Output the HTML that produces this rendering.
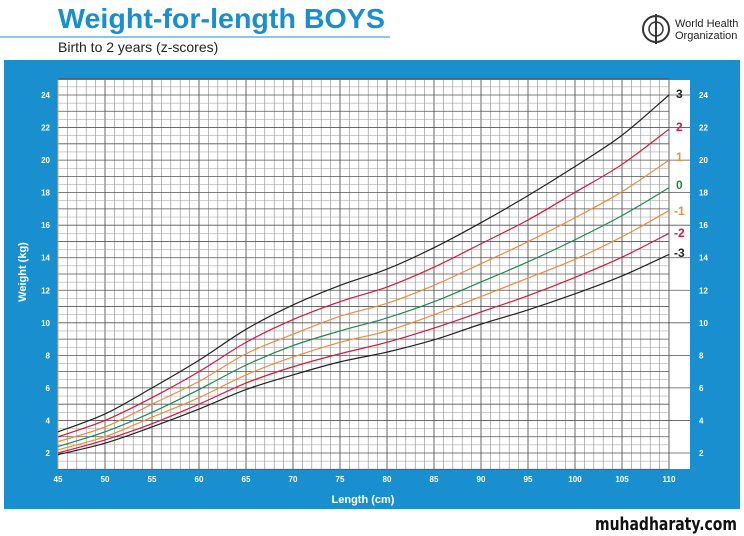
<!DOCTYPE html>
<html><head><meta charset="utf-8"><style>
body{margin:0;width:744px;height:536px;background:#fff;overflow:hidden;font-family:"Liberation Sans",sans-serif;position:relative}
</style></head><body>
<svg width="744" height="536" xmlns="http://www.w3.org/2000/svg" style="position:absolute;left:0;top:0">
<text x="58" y="28" font-family="Liberation Sans" font-weight="bold" font-size="28" fill="#1a8fd0" textLength="327" lengthAdjust="spacingAndGlyphs">Weight-for-length BOYS</text>
<line x1="0" y1="37" x2="390" y2="37" stroke="#1a8fd0" stroke-width="1"/>
<text x="58" y="52" font-family="Liberation Sans" font-size="14" fill="#222">Birth to 2 years (z-scores)</text>
<circle cx="656" cy="29" r="13" fill="none" stroke="#333" stroke-width="2"/>
<circle cx="656" cy="29" r="7" fill="none" stroke="#333" stroke-width="1.5"/>
<line x1="656" y1="14" x2="656" y2="44" stroke="#333" stroke-width="2"/>
<text x="675" y="27" font-size="11" fill="#222">World Health</text>
<text x="675" y="39" font-size="11" fill="#222">Organization</text>
<rect x="4" y="60" width="736" height="449" fill="#1a8fd0"/>
<rect x="58" y="80" width="632" height="389" fill="#fff"/>
<g id="grid"></g>
<g id="curves" fill="none" stroke-width="1.2"></g>
<g id="labels" font-family="Liberation Sans" font-weight="bold" font-size="8" fill="#fff"></g>
<g font-family="Liberation Sans" font-weight="bold" font-size="12">
<text x="676" y="98" fill="#222">3</text>
<text x="676" y="131" fill="#d7183c">2</text>
<text x="676" y="161" fill="#f08a3c">1</text>
<text x="676" y="189" fill="#1a8a50">0</text>
<text x="674" y="215" fill="#f08a3c">-1</text>
<text x="674" y="237" fill="#d7183c">-2</text>
<text x="674" y="257" fill="#222">-3</text>
</g>
<text x="363" y="503" text-anchor="middle" font-family="Liberation Sans" font-weight="bold" font-size="11" fill="#fff">Length (cm)</text>
<text transform="translate(26,272) rotate(-90)" text-anchor="middle" font-family="Liberation Sans" font-weight="bold" font-size="11" fill="#fff">Weight (kg)</text>
<text x="595" y="530" font-family="DejaVu Sans" font-weight="bold" font-size="18" fill="#111" textLength="142" lengthAdjust="spacingAndGlyphs">muhadharaty.com</text>
</svg>
<script>
const NS="http://www.w3.org/2000/svg";
const X=l=>58+(l-45)*611/65, Y=w=>453-(w-2)*358/22;
const g=document.getElementById('grid');
function ln(p,x1,y1,x2,y2,c,w){const e=document.createElementNS(NS,'line');e.setAttribute('x1',x1);e.setAttribute('y1',y1);e.setAttribute('x2',x2);e.setAttribute('y2',y2);e.setAttribute('stroke',c);e.setAttribute('stroke-width',w);p.appendChild(e);}
for(let l=45;l<=110;l++){ln(g,X(l),80,X(l),469,l%5==0?'#555':'#888',l%5==0?0.9:0.6);}
for(let w=1;w<=25;w+=0.5){ln(g,58,Y(w),669,Y(w),Number.isInteger(w)?'#555':'#999',Number.isInteger(w)?0.8:0.5);}
for(let w=2;w<=24;w+=2){ln(g,669,Y(w),690,Y(w),'#555',0.8);}
ln(g,58,80,58,469,'#f0a040',1);
const lab=document.getElementById('labels');
function tx(x,y,s,a){const e=document.createElementNS(NS,'text');e.setAttribute('x',x);e.setAttribute('y',y);e.setAttribute('text-anchor',a);e.textContent=s;lab.appendChild(e);}
for(let w=2;w<=24;w+=2){tx(50,Y(w)+3,w,'end');tx(699,Y(w)+3,w,'start');}
for(let l=45;l<=110;l+=5){tx(X(l),482,l,'middle');}
const L=[45,50,55,60,65,70,75,80,85,90,95,100,105,110];
const D=[[1.9,2.6,3.6,4.7,5.9,6.8,7.6,8.2,8.9,9.8,10.6,11.5,12.5,13.7],
[2.0,2.8,3.8,5.0,6.3,7.3,8.1,8.8,9.6,10.5,11.4,12.4,13.5,14.8],
[2.2,3.0,4.2,5.4,6.8,7.9,8.8,9.5,10.4,11.4,12.4,13.4,14.6,16.0],
[2.4,3.3,4.5,5.9,7.4,8.6,9.5,10.3,11.2,12.3,13.4,14.6,15.9,17.4],
[2.7,3.6,5.0,6.4,8.1,9.3,10.4,11.2,12.2,13.4,14.6,15.9,17.3,19.0],
[3.0,4.0,5.4,7.0,8.8,10.2,11.3,12.2,13.3,14.6,15.9,17.4,18.9,20.8],
[3.3,4.4,6.0,7.7,9.6,11.1,12.3,13.3,14.5,15.9,17.4,19.0,20.7,22.9]];
const E=[14.2,15.5,16.9,18.3,20.0,21.9,24.0];
const C=['#222','#d7183c','#f08a3c','#1a8a50','#f08a3c','#d7183c','#222'];
const cg=document.getElementById('curves');
D.forEach((d,i)=>{const r=E[i]/d[13];const P=L.map((l,j)=>[X(l),Y(d[j]*(1+(r-1)*Math.max(0,(l-80)/30)))]);
let s='M'+P[0][0]+','+P[0][1];
for(let j=0;j<P.length-1;j++){const p0=P[Math.max(0,j-1)],p1=P[j],p2=P[j+1],p3=P[Math.min(P.length-1,j+2)];
s+=` C${p1[0]+(p2[0]-p0[0])/6},${p1[1]+(p2[1]-p0[1])/6} ${p2[0]-(p3[0]-p1[0])/6},${p2[1]-(p3[1]-p1[1])/6} ${p2[0]},${p2[1]}`;}
const e=document.createElementNS(NS,'path');e.setAttribute('d',s);e.setAttribute('stroke',C[i]);cg.appendChild(e);});
</script>
</body></html>
